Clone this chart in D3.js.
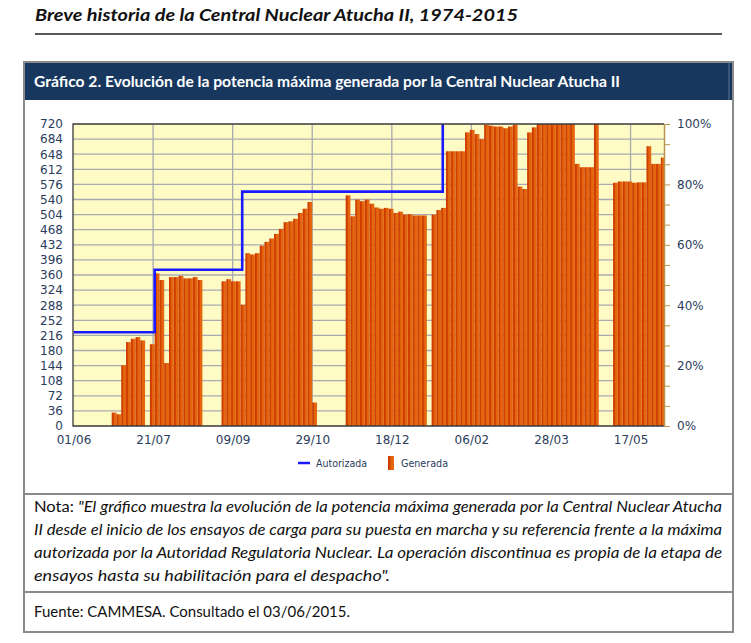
<!DOCTYPE html>
<html>
<head>
<meta charset="utf-8">
<script src="https://cdn.jsdelivr.net/npm/d3@7"></script>
<style>
body { margin: 0; background: #fff; }
</style>
</head>
<body>
<svg id="page" width="751" height="643"></svg>
<script>
// potencia maxima generada (MW), un valor cada 3 dias desde el 01/06/2014
var generada = [
  0, 0, 0, 0, 0, 0, 0, 0,
  32, 28, 145, 200, 208, 212, 204, 0, 195, 364, 348, 150,
  355, 355, 358, 352, 352, 355, 348, 0, 0, 0,
  0, 345, 350, 345, 345, 289, 412, 409, 412, 430,
  439, 447, 458, 470, 486, 488, 494, 508, 518, 534,
  56, 0, 0, 0, 0, 0, 0, 550, 500, 540,
  536, 540, 530, 521, 518, 520, 518, 508, 511, 504,
  505, 502, 502, 502, 0, 504, 515, 520, 655, 655,
  655, 655, 700, 706, 696, 684, 718, 716, 714, 714,
  710, 714, 718, 571, 565, 700, 712, 720, 720, 720,
  720, 720, 720, 720, 720, 625, 617, 617, 617, 720,
  0, 0, 0, 580, 583, 583, 583, 580, 581, 581,
  667, 625, 625, 640
];
var autorizadaFechas = ['2014-06-01', '2014-07-22', '2014-09-15', '2015-01-19', '2015-06-07'];
var autorizadaValores = [223.5, 372.5, 558.75, 745];
var yTicks = [0, 36, 72, 108, 144, 180, 216, 252, 288, 324, 360, 396, 432, 468, 504, 540, 576, 612, 648, 684, 720];
var pctTicks = [0, 48, 96, 144, 192, 240, 288, 336, 384, 432, 480, 528, 576, 624, 672, 720];
var xTickDates = ['2014-06-01', '2014-07-21', '2014-09-09', '2014-10-29', '2014-12-18', '2015-02-06', '2015-03-28', '2015-05-17'];

var notaLineas = [
  ['Nota: ', '"El gráfico muestra la evolución de la potencia máxima generada por la Central Nuclear Atucha'],
  ['', 'II desde el inicio de los ensayos de carga para su puesta en marcha y su referencia frente a la máxima'],
  ['', 'autorizada por la Autoridad Regulatoria Nuclear. La operación discontinua es propia de la etapa de'],
  ['', 'ensayos hasta su habilitación para el despacho".']
];

var parse = d3.timeParse('%Y-%m-%d');
var t0 = parse('2014-06-01');
var t1 = parse('2015-06-07');
var pLeft = 73, pRight = 664, pTop = 124, pBottom = 426;

var x = d3.scaleTime().domain([t0, t1]).range([73.5, pRight]);
var y = d3.scaleLinear().domain([0, 720]).range([pBottom, pTop]);

var svg = d3.select('#page');
var txtFont = 'Lato, "Open Sans", sans-serif';
var axisFont = '"DejaVu Sans", Verdana, sans-serif';
var axisColor = '#2a3d5c';

var defs = svg.append('defs');
var grad = defs.append('linearGradient').attr('id', 'barGrad')
  .attr('x1', 0).attr('x2', 1).attr('y1', 0).attr('y2', 0);
grad.append('stop').attr('offset', '0%').attr('stop-color', '#c83800');
grad.append('stop').attr('offset', '38%').attr('stop-color', '#d54400');
grad.append('stop').attr('offset', '45%').attr('stop-color', '#e2620c');
grad.append('stop').attr('offset', '100%').attr('stop-color', '#e66a12');
defs.append('clipPath').attr('id', 'plotClip')
  .append('rect').attr('x', pLeft).attr('y', pTop).attr('width', pRight - pLeft).attr('height', pBottom - pTop);

// titulo de la pagina
svg.append('text')
  .attr('x', 35).attr('y', 21)
  .attr('font-family', txtFont).attr('font-weight', 'bold').attr('font-style', 'italic')
  .attr('font-size', 17.5).attr('fill', '#111')
  .attr('textLength', 483).attr('lengthAdjust', 'spacingAndGlyphs')
  .text('Breve historia de la Central Nuclear Atucha II, 1974-2015');
svg.append('line')
  .attr('x1', 35).attr('x2', 722).attr('y1', 34).attr('y2', 34)
  .attr('stroke', '#222').attr('stroke-width', 1.5);

// caja del grafico
svg.append('rect')
  .attr('x', 24).attr('y', 62).attr('width', 709).attr('height', 38)
  .attr('fill', '#17375e');
svg.append('line')
  .attr('x1', 729).attr('x2', 729).attr('y1', 62).attr('y2', 100)
  .attr('stroke', '#5a7596').attr('stroke-width', 1);
svg.append('text')
  .attr('x', 34).attr('y', 87)
  .attr('font-family', txtFont).attr('font-weight', 'bold')
  .attr('font-size', 14.5).attr('fill', '#fff')
  .attr('textLength', 586).attr('lengthAdjust', 'spacingAndGlyphs')
  .text('Gráfico 2. Evolución de la potencia máxima generada por la Central Nuclear Atucha II');
svg.append('rect')
  .attr('x', 24).attr('y', 62).attr('width', 709).attr('height', 570)
  .attr('fill', 'none').attr('stroke', '#8a8a8a').attr('stroke-width', 2);
[494, 592].forEach(function(yy) {
  svg.append('line')
    .attr('x1', 24).attr('x2', 733).attr('y1', yy).attr('y2', yy)
    .attr('stroke', '#8a8a8a').attr('stroke-width', 2);
});

// area de trazado
var plot = svg.append('g');
plot.append('rect')
  .attr('x', pLeft).attr('y', pTop).attr('width', pRight - pLeft).attr('height', pBottom - pTop)
  .attr('fill', '#fffbc4');

plot.selectAll('line.hgrid')
  .data(yTicks.slice(1, -1))
  .enter().append('line')
  .attr('class', 'hgrid')
  .attr('x1', pLeft).attr('x2', pRight)
  .attr('y1', function(d) { return y(d); })
  .attr('y2', function(d) { return y(d); })
  .attr('stroke', '#a9abb0').attr('stroke-width', 1.3);

plot.selectAll('line.vgrid')
  .data(xTickDates.slice(1))
  .enter().append('line')
  .attr('class', 'vgrid')
  .attr('x1', function(d) { return x(parse(d)); })
  .attr('x2', function(d) { return x(parse(d)); })
  .attr('y1', pTop).attr('y2', pBottom)
  .attr('stroke', '#a9abb0').attr('stroke-width', 1.3);

var barras = generada.map(function(v, i) {
  return { d0: d3.timeDay.offset(t0, 3 * i), d1: d3.timeDay.offset(t0, 3 * i + 3), v: v };
}).filter(function(d) { return d.v > 0; });

plot.append('g').attr('clip-path', 'url(#plotClip)')
  .selectAll('rect')
  .data(barras)
  .enter().append('rect')
  .attr('x', function(d) { return x(d.d0); })
  .attr('width', function(d) { return Math.min(x(d.d1), pRight) - x(d.d0); })
  .attr('y', function(d) { return y(d.v); })
  .attr('height', function(d) { return pBottom - y(d.v); })
  .attr('fill', 'url(#barGrad)');

var autorizada = autorizadaFechas.map(function(f, i) {
  return { d: parse(f), v: autorizadaValores[Math.min(i, autorizadaValores.length - 1)] };
});
var stepLine = d3.line()
  .x(function(d) { return x(d.d); })
  .y(function(d) { return y(d.v); })
  .curve(d3.curveStepAfter);
plot.append('path')
  .datum(autorizada)
  .attr('clip-path', 'url(#plotClip)')
  .attr('d', stepLine)
  .attr('fill', 'none')
  .attr('stroke', '#1a1aff')
  .attr('stroke-width', 2.6);

// marco
plot.append('path')
  .attr('d', 'M' + pRight + ',' + pTop + 'H' + pLeft + 'V' + pBottom + 'H' + pRight)
  .attr('fill', 'none').attr('stroke', '#3a3a3a').attr('stroke-width', 1.3);

// ejes
var yAxis = svg.append('g')
  .attr('transform', 'translate(' + pLeft + ',0)')
  .call(d3.axisLeft(y).tickValues(yTicks).tickSize(0).tickPadding(10));
yAxis.select('.domain').remove();

var rAxis = svg.append('g')
  .attr('transform', 'translate(' + pRight + ',0)')
  .call(d3.axisRight(y).tickValues(pctTicks).tickSize(6).tickSizeOuter(0).tickPadding(7)
    .tickFormat(function(v) { return v % 144 === 0 ? Math.round(v / 7.2) + '%' : ''; }));
rAxis.select('.domain').attr('stroke', '#b8964e').attr('stroke-width', 1.5);
rAxis.selectAll('.tick line').attr('stroke', '#b8964e');

var xAxis = svg.append('g')
  .attr('transform', 'translate(0,' + pBottom + ')')
  .call(d3.axisBottom(x).tickValues(xTickDates.map(parse)).tickSize(0).tickPadding(9)
    .tickFormat(d3.timeFormat('%d/%m')));
xAxis.select('.domain').remove();

[yAxis, rAxis, xAxis].forEach(function(a) {
  a.selectAll('text')
    .attr('font-family', axisFont).attr('font-size', 12).attr('fill', axisColor);
});

// leyenda
var leg = svg.append('g');
leg.append('line')
  .attr('x1', 298).attr('x2', 310).attr('y1', 463).attr('y2', 463)
  .attr('stroke', '#1a1aff').attr('stroke-width', 2.5);
leg.append('text')
  .attr('x', 316).attr('y', 467)
  .attr('font-family', axisFont).attr('font-size', 10.5).attr('fill', axisColor)
  .attr('textLength', 51).attr('lengthAdjust', 'spacingAndGlyphs')
  .text('Autorizada');
leg.append('rect')
  .attr('x', 388).attr('y', 456).attr('width', 6).attr('height', 14)
  .attr('fill', 'url(#barGrad)');
leg.append('text')
  .attr('x', 401).attr('y', 467)
  .attr('font-family', axisFont).attr('font-size', 10.5).attr('fill', axisColor)
  .attr('textLength', 47).attr('lengthAdjust', 'spacingAndGlyphs')
  .text('Generada');

// nota y fuente
var notaY = [512, 535, 558, 581];
var notaLen = [688, 688, 688, 356];
notaLineas.forEach(function(l, i) {
  var t = svg.append('text')
    .attr('x', 34).attr('y', notaY[i])
    .attr('font-family', txtFont).attr('font-size', 15.5).attr('fill', '#111')
    .attr('textLength', notaLen[i]).attr('lengthAdjust', 'spacingAndGlyphs');
  if (l[0]) t.append('tspan').text(l[0]);
  t.append('tspan').attr('font-style', 'italic').text(l[1]);
});
svg.append('text')
  .attr('x', 34).attr('y', 617)
  .attr('font-family', txtFont).attr('font-size', 15.5).attr('fill', '#111')
  .attr('textLength', 316).attr('lengthAdjust', 'spacingAndGlyphs')
  .text('Fuente: CAMMESA. Consultado el 03/06/2015.');
</script>
</body>
</html>
